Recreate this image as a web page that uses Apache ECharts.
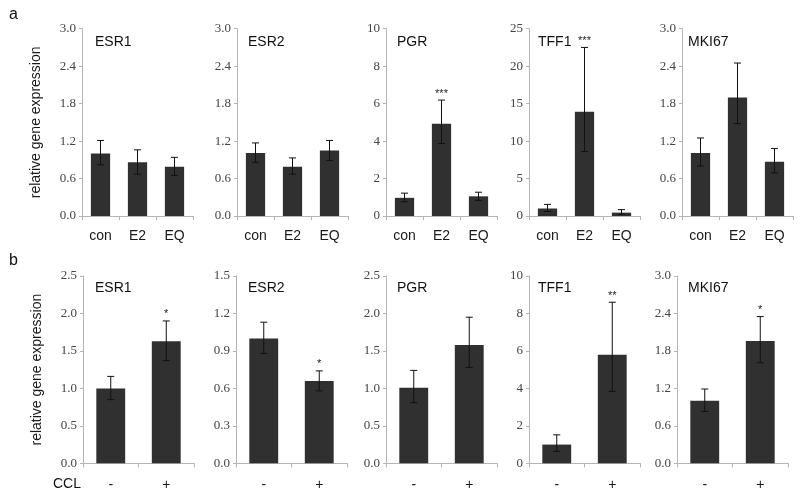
<!DOCTYPE html>
<html><head><meta charset="utf-8">
<script src="https://cdn.jsdelivr.net/npm/echarts@6/dist/echarts.min.js"></script>
<style>html,body{margin:0;padding:0;background:#fff}#c{width:800px;height:499px}</style>
</head><body><div id="c"></div>
<script>
const genes = ['ESR1','ESR2','PGR','TFF1','MKI67'];
const topCats = ['con','E2','EQ'];
const botCats = ['-','+'];
// panel a (means, error bar low, error bar high)
const topMeans = [[1.00,0.86,0.79],[1.01,0.79,1.05],[0.97,4.92,1.05],[1.00,13.9,0.45],[1.01,1.90,0.87]];
const topLow   = [[0.82,0.67,0.65],[0.86,0.67,0.89],[0.76,3.87,0.83],[0.60,8.6,0.22],[0.80,1.48,0.69]];
const topHigh  = [[1.21,1.06,0.94],[1.17,0.93,1.21],[1.22,6.19,1.27],[1.55,22.5,0.85],[1.25,2.45,1.08]];
const topSig   = [['','',''],['','',''],['','***',''],['','***',''],['','','']];
const topYMax  = [3, 3, 10, 25, 3];
const topYStep = [0.6, 0.6, 2, 5, 0.6];
// panel b
const botMeans = [[1.00,1.63],[1.00,0.66],[1.01,1.58],[1.00,5.79],[1.00,1.96]];
const botLow   = [[0.85,1.37],[0.88,0.58],[0.81,1.28],[0.64,3.84],[0.83,1.61]];
const botHigh  = [[1.16,1.90],[1.13,0.74],[1.24,1.95],[1.52,8.60],[1.19,2.35]];
const botSig   = [['','*'],['','*'],['',''],['','**'],['','*']];
const botYMax  = [2.5, 1.5, 2.5, 10, 3];
const botYStep = [0.5, 0.3, 0.5, 2, 0.6];

const chart = echarts.init(document.getElementById('c'), null, {renderer:'canvas'});
const SANS = 'Liberation Sans, Arial, sans-serif';
const SERIF = 'Liberation Serif, Times New Roman, serif';
const AX = '#b4b4b4';
const BAR = '#303030';

const topLefts = [82,237,386,529,682];
const botLefts = [83,236,386,529,677];
const titleLefts = [95,248,397,538,688];
const GW = 111, GH = 187.3, TOP1 = 28.7, TOP2 = 276;

const grid=[], xAxis=[], yAxis=[], series=[], title=[];
function addPanel(idx, left, top, cats, means, lo, hi, sig, ymax, ystep, gene, tleft, ttop, labelMargin, isFirst){
  grid.push({left:left, top:top, width:GW, height:GH});
  xAxis.push({type:'category', gridIndex:idx, data:cats, boundaryGap:true,
    axisLine:{show:true, lineStyle:{color:AX, width:1}},
    axisTick:{show:true, length:4, alignWithLabel:false, interval:0, lineStyle:{color:AX}},
    axisLabel:{interval:0, margin:labelMargin, color:'#1a1a1a', fontFamily:SANS, fontSize:14}});
  const dec = ystep < 1 ? 1 : 0;
  yAxis.push({type:'value', gridIndex:idx, min:0, max:ymax, interval:ystep,
    axisLine:{show:true, lineStyle:{color:AX, width:1}},
    axisTick:{show:true, length:3, lineStyle:{color:AX}},
    splitLine:{show:false},
    axisLabel:{margin:6, color:'#444', fontFamily:SERIF, fontSize:13, formatter:v=>v.toFixed(dec)},
    name: isFirst ? 'relative gene expression' : '',
    nameLocation:'middle', nameGap:39, nameRotate:90,
    nameTextStyle:{fontFamily:SANS, fontSize:14, color:'#1a1a1a'}});
  series.push({type:'bar', xAxisIndex:idx, yAxisIndex:idx, data:means, barWidth:'52%',
    itemStyle:{color:BAR}, silent:true, animation:false});
  series.push({type:'custom', xAxisIndex:idx, yAxisIndex:idx,
    data: cats.map((c,i)=>[i, lo[i], hi[i]]),
    encode:{x:0, y:[1,2]}, animation:false, silent:true, z:5,
    renderItem:function(params, api){
      const x = api.value(0);
      const a = api.coord([x, api.value(1)]);
      const b = api.coord([x, api.value(2)]);
      const cw = 3.5;
      const st = {stroke:'#111', lineWidth:1};
      const ch = [
        {type:'line', shape:{x1:a[0], y1:a[1], x2:b[0], y2:b[1]}, style:st},
        {type:'line', shape:{x1:b[0]-cw, y1:b[1], x2:b[0]+cw, y2:b[1]}, style:st},
        {type:'line', shape:{x1:a[0]-cw, y1:a[1], x2:a[0]+cw, y2:a[1]}, style:st}
      ];
      const s = sig[params.dataIndex];
      if (s) ch.push({type:'text', x:b[0], y:b[1]-1, style:{text:s, fill:'#222', font:'11px '+SANS, textAlign:'center', textVerticalAlign:'bottom'}});
      return {type:'group', children:ch};
    }});
  title.push({text:gene, left:tleft, top:ttop, padding:0,
    textStyle:{fontFamily:SANS, fontSize:14, fontWeight:'normal', color:'#111'}});
}
for (let g=0; g<5; g++) addPanel(g, topLefts[g], TOP1, topCats, topMeans[g], topLow[g], topHigh[g], topSig[g], topYMax[g], topYStep[g], genes[g], titleLefts[g], 35, 13, g===0);
for (let g=0; g<5; g++) addPanel(5+g, botLefts[g], TOP2, botCats, botMeans[g], botLow[g], botHigh[g], botSig[g], botYMax[g], botYStep[g], genes[g], titleLefts[g], 281, 15, g===0);

chart.setOption({
  animation:false,
  title, grid, xAxis, yAxis, series,
  graphic:[
    {type:'text', left:9, top:7, style:{text:'a', font:'16px '+SANS, fill:'#111'}},
    {type:'text', left:9, top:253, style:{text:'b', font:'16px '+SANS, fill:'#111'}},
    {type:'text', left:53, top:477, style:{text:'CCL', font:'14px '+SANS, fill:'#111'}}
  ]
});
</script></body></html>
